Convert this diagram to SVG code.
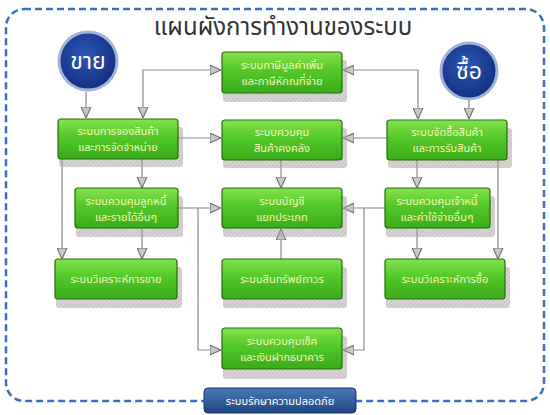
<svg xmlns="http://www.w3.org/2000/svg" width="550" height="415" viewBox="0 0 550 415">
<defs>
<style>
.t{font-family:"Noto Sans Thai","Noto Sans","DejaVu Sans",sans-serif;fill:#f4f7b8;font-size:11px;text-anchor:middle}
.title{font-family:"Noto Sans Thai","Noto Sans","DejaVu Sans",sans-serif;fill:#333333;font-size:24px;text-anchor:middle}
.ct{font-family:"Noto Sans Thai","Noto Sans","DejaVu Sans",sans-serif;fill:#ffffff;font-size:23px;text-anchor:middle}
.box{fill:url(#g);stroke:#246f0e;stroke-width:1.2}
.shadow{fill:url(#hatch);opacity:0.5}
.c{fill:none;stroke:#8a8a8a;stroke-width:1.2;marker-end:url(#ah)}
.cb{fill:none;stroke:#8a8a8a;stroke-width:1.2;marker-end:url(#ah);marker-start:url(#ah)}
</style>
<pattern id="hatch" width="3" height="3" patternUnits="userSpaceOnUse" patternTransform="rotate(45)">
<rect width="3" height="3" fill="#bdb6b6"/>
<rect width="1.5" height="3" fill="#8e8585"/>
</pattern>
<linearGradient id="g" x1="0" y1="0" x2="0" y2="1">
<stop offset="0" stop-color="#86e24a"/>
<stop offset="0.45" stop-color="#52c828"/>
<stop offset="1" stop-color="#3aab1a"/>
</linearGradient>
<linearGradient id="bar" x1="0" y1="0" x2="0" y2="1">
<stop offset="0" stop-color="#4a78b8"/>
<stop offset="1" stop-color="#1f4682"/>
</linearGradient>
<radialGradient id="circ" cx="0.45" cy="0.4" r="0.6">
<stop offset="0" stop-color="#2e58b8"/>
<stop offset="1" stop-color="#132f80"/>
</radialGradient>
<marker id="ah" viewBox="0 0 10 10" refX="10" refY="5" markerWidth="11" markerHeight="11" markerUnits="userSpaceOnUse" orient="auto-start-reverse">
<path d="M0,0.5 L10,5 L0,9.5 z" fill="#c8c8c8" stroke="#707070" stroke-width="1"/>
</marker>
</defs>
<rect width="550" height="415" fill="#ffffff"/>
<rect x="6" y="9" width="538" height="392" rx="18" fill="none" stroke="#3a6fc0" stroke-width="2.5" stroke-dasharray="7 4"/>
<text class="title" x="283" y="35">แผนผังการทำงานของระบบ</text>

<g id="connectors">
<path class="c" d="M86,92 V118"/>
<path class="c" d="M469,100 V119"/>
<path class="cb" d="M143,118 V70 H221"/>
<path class="cb" d="M343,70 H418 V119"/>
<path class="c" d="M178,138 H221"/>
<path class="c" d="M387,138 H343"/>
<path class="c" d="M281,160 V188"/>
<path class="c" d="M142,159 V188"/>
<path class="c" d="M62,159 V259"/>
<path class="c" d="M142,228 V259"/>
<path class="c" d="M178,208 H221"/>
<path class="c" d="M198,208 V350 H221"/>
<path class="c" d="M385,208 H343"/>
<path class="c" d="M364,208 V350 H343"/>
<path class="c" d="M281,260 V229"/>
<path class="c" d="M417,160 V188"/>
<path class="c" d="M498,160 V259"/>
<path class="c" d="M417,228 V259"/>
</g>

<g id="sell">
<circle cx="88" cy="61" r="29" fill="url(#circ)" stroke="#9fb4d8" stroke-width="3"/>
<text class="ct" x="88" y="69">ขาย</text>
</g>
<g id="buy">
<circle cx="469" cy="71" r="28" fill="url(#circ)" stroke="#9fb4d8" stroke-width="3"/>
<text class="ct" x="469" y="79">ซื้อ</text>
</g>

<g id="vat">
<rect class="shadow" x="223" y="60" width="124" height="42" rx="3"/>
<rect class="box" x="222" y="52" width="120" height="41" rx="3"/>
<text class="t" x="282" y="69">ระบบภาษีมูลค่าเพิ่ม</text>
<text class="t" x="282" y="85">และภาษีหักณที่จ่าย</text>
</g>
<g id="booking">
<rect class="shadow" x="59" y="127" width="124" height="40" rx="3"/>
<rect class="box" x="58" y="119" width="120" height="40" rx="3"/>
<text class="t" x="118" y="135">ระบบการจองสินค้า</text>
<text class="t" x="118" y="151">และการจัดจำหน่าย</text>
</g>
<g id="inventory">
<rect class="shadow" x="223" y="128" width="124" height="40" rx="3"/>
<rect class="box" x="222" y="120" width="120" height="40" rx="3"/>
<text class="t" x="282" y="136">ระบบควบคุม</text>
<text class="t" x="282" y="152">สินค้าคงคลัง</text>
</g>
<g id="purchasing">
<rect class="shadow" x="388" y="128" width="124" height="40" rx="3"/>
<rect class="box" x="387" y="120" width="120" height="40" rx="3"/>
<text class="t" x="447" y="136">ระบบจัดซื้อสินค้า</text>
<text class="t" x="447" y="152">และการรับสินค้า</text>
</g>
<g id="receivable">
<rect class="shadow" x="76" y="196" width="107" height="41" rx="3"/>
<rect class="box" x="75" y="188" width="103" height="40" rx="3"/>
<text class="t" x="126" y="205">ระบบควบคุมลูกหนี้</text>
<text class="t" x="126" y="221">และรายได้อื่นๆ</text>
</g>
<g id="ledger">
<rect class="shadow" x="223" y="196" width="124" height="41" rx="3"/>
<rect class="box" x="222" y="188" width="120" height="40" rx="3"/>
<text class="t" x="282" y="205">ระบบบัญชี</text>
<text class="t" x="282" y="221">แยกประเภท</text>
</g>
<g id="payable">
<rect class="shadow" x="386" y="196" width="109" height="41" rx="3"/>
<rect class="box" x="385" y="188" width="105" height="40" rx="3"/>
<text class="t" x="437" y="205">ระบบควบคุมเจ้าหนี้</text>
<text class="t" x="437" y="221">และค่าใช้จ่ายอื่นๆ</text>
</g>
<g id="salesanalysis">
<rect class="shadow" x="56" y="267" width="126" height="41" rx="3"/>
<rect class="box" x="55" y="259" width="122" height="40" rx="3"/>
<text class="t" x="116" y="283">ระบบวิเคราะห์การขาย</text>
</g>
<g id="assets">
<rect class="shadow" x="223" y="267" width="124" height="41" rx="3"/>
<rect class="box" x="222" y="259" width="120" height="40" rx="3"/>
<text class="t" x="282" y="283">ระบบสินทรัพย์ถาวร</text>
</g>
<g id="purchaseanalysis">
<rect class="shadow" x="386" y="267" width="124" height="41" rx="3"/>
<rect class="box" x="385" y="259" width="120" height="40" rx="3"/>
<text class="t" x="445" y="283">ระบบวิเคราะห์การซื้อ</text>
</g>
<g id="cheque">
<rect class="shadow" x="223" y="336" width="124" height="43" rx="3"/>
<rect class="box" x="222" y="328" width="120" height="41" rx="3"/>
<text class="t" x="282" y="345">ระบบควบคุมเช็ค</text>
<text class="t" x="282" y="361">และเงินฝากธนาคาร</text>
</g>
<g id="security">
<rect x="204" y="388" width="152" height="25" rx="4" fill="url(#bar)" stroke="#163a70" stroke-width="1"/>
<text class="t" x="280" y="405" style="fill:#ffffff">ระบบรักษาความปลอดภัย</text>
</g>
</svg>
